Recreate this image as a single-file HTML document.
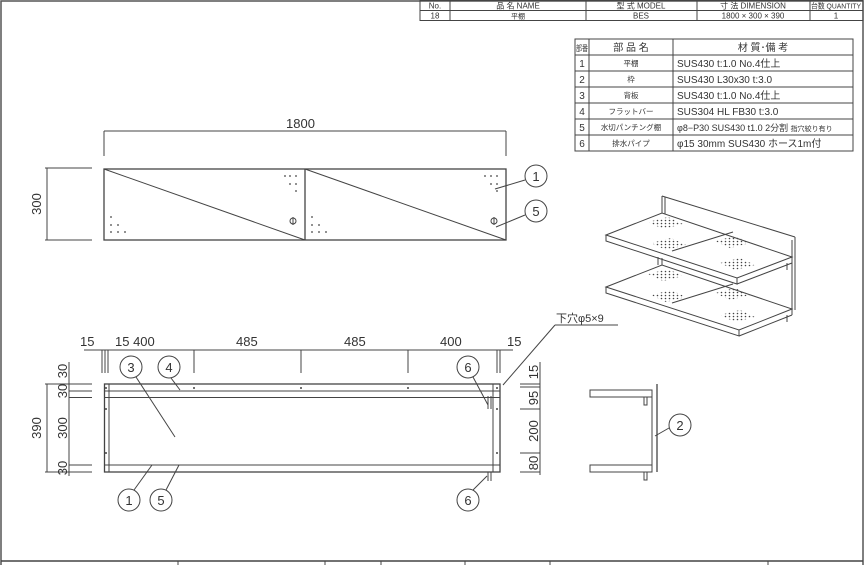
<!DOCTYPE html>
<html><head><meta charset="utf-8"><style>
html,body{margin:0;padding:0;background:#fff}
svg{display:block}
text{font-family:"Liberation Sans","Noto Sans CJK JP",sans-serif;fill:#333}
</style></head><body>
<svg width="865" height="565" viewBox="0 0 865 565" xmlns="http://www.w3.org/2000/svg">
<defs>
<pattern id="dots" width="4" height="3" patternUnits="userSpaceOnUse"><circle cx="1.5" cy="1.5" r="0.8" fill="#444"/></pattern>
</defs>
<g fill="none" stroke="#444" stroke-width="1">
<rect x="1" y="1" width="862" height="570" stroke="#555" stroke-width="1.5"/>
<line x1="1" y1="561" x2="863" y2="561" stroke-width="1.5"/>
<line x1="178" y1="561" x2="178" y2="565"/><line x1="325" y1="561" x2="325" y2="565"/><line x1="381" y1="561" x2="381" y2="565"/><line x1="465" y1="561" x2="465" y2="565"/><line x1="550" y1="561" x2="550" y2="565"/><line x1="768" y1="561" x2="768" y2="565"/>
<rect x="420" y="0.5" width="443" height="20"/>
<line x1="420" y1="10.5" x2="863" y2="10.5"/>
<line x1="450" y1="0" x2="450" y2="20"/><line x1="586" y1="0" x2="586" y2="20"/><line x1="697" y1="0" x2="697" y2="20"/><line x1="810" y1="0" x2="810" y2="20"/>
<rect x="575" y="39" width="278" height="112"/>
<line x1="575" y1="55" x2="853" y2="55"/><line x1="575" y1="71" x2="853" y2="71"/><line x1="575" y1="87" x2="853" y2="87"/><line x1="575" y1="103" x2="853" y2="103"/><line x1="575" y1="119" x2="853" y2="119"/><line x1="575" y1="135" x2="853" y2="135"/>
<line x1="589" y1="39" x2="589" y2="151"/><line x1="673" y1="39" x2="673" y2="151"/>

<rect x="104" y="169" width="402" height="71" stroke-width="1.3"/>
<line x1="305" y1="169" x2="305" y2="240" stroke-width="1.3"/>
<line x1="104" y1="169" x2="305" y2="240"/><line x1="305" y1="169" x2="506" y2="240"/>
<line x1="104" y1="131" x2="506" y2="131"/><line x1="104" y1="131" x2="104" y2="156"/><line x1="506" y1="131" x2="506" y2="156"/>
<line x1="45" y1="168" x2="92" y2="168"/><line x1="45" y1="240" x2="92" y2="240"/><line x1="47" y1="168" x2="47" y2="240"/>
<circle cx="536" cy="176" r="11"/><circle cx="536" cy="211" r="11"/>
<line x1="525" y1="180" x2="495" y2="189"/><line x1="525" y1="215" x2="496" y2="227"/>
<circle cx="293" cy="221" r="3"/><line x1="293" y1="217" x2="293" y2="225"/>
<circle cx="494" cy="221" r="3"/><line x1="494" y1="217" x2="494" y2="225"/>

<rect x="104.5" y="384" width="395.5" height="88" stroke-width="1.3"/>
<line x1="104.5" y1="391" x2="500" y2="391"/><line x1="104.5" y1="397.5" x2="500" y2="397.5"/>
<line x1="104.5" y1="465" x2="500" y2="465"/>
<line x1="109" y1="384" x2="109" y2="472"/><line x1="493" y1="384" x2="493" y2="472"/>
<line x1="84" y1="350" x2="513" y2="350"/>
<line x1="102" y1="350" x2="102" y2="373"/><line x1="105" y1="350" x2="105" y2="373"/><line x1="108" y1="350" x2="108" y2="373"/>
<line x1="194" y1="350" x2="194" y2="373"/><line x1="301" y1="350" x2="301" y2="373"/><line x1="408" y1="350" x2="408" y2="373"/>
<line x1="497" y1="350" x2="497" y2="373"/><line x1="500" y1="350" x2="500" y2="373"/>
<line x1="45" y1="384" x2="92" y2="384"/><line x1="45" y1="472" x2="92" y2="472"/><line x1="47" y1="384" x2="47" y2="472"/>
<line x1="69" y1="362" x2="69" y2="476"/>
<line x1="69" y1="391" x2="92" y2="391"/><line x1="69" y1="397.5" x2="92" y2="397.5"/><line x1="69" y1="465" x2="92" y2="465"/>
<line x1="540" y1="362" x2="540" y2="475"/>
<line x1="520" y1="384" x2="540" y2="384"/><line x1="520" y1="387" x2="540" y2="387"/>
<line x1="520" y1="409" x2="540" y2="409"/><line x1="520" y1="453" x2="540" y2="453"/><line x1="520" y1="472" x2="540" y2="472"/>
<circle cx="131" cy="367" r="11"/><circle cx="169" cy="367" r="11"/><circle cx="468" cy="367" r="11"/>
<circle cx="129" cy="500" r="11"/><circle cx="161" cy="500" r="11"/><circle cx="468" cy="500" r="11"/>
<line x1="136" y1="377" x2="175" y2="437"/><line x1="171" y1="378" x2="180" y2="390"/><line x1="473" y1="377" x2="488" y2="405"/>
<line x1="134" y1="490" x2="152" y2="465"/><line x1="166" y1="490" x2="179" y2="465"/><line x1="473" y1="490" x2="487" y2="476"/>
<line x1="503" y1="385" x2="555" y2="325"/><line x1="555" y1="325" x2="618" y2="325"/>
<line x1="488" y1="396" x2="488" y2="409"/><line x1="491" y1="396" x2="491" y2="409"/>
<line x1="488" y1="472" x2="488" y2="481"/><line x1="491" y1="472" x2="491" y2="481"/>

<rect x="590" y="390" width="62" height="7"/>
<rect x="590" y="465" width="62" height="7"/>
<line x1="657" y1="384" x2="657" y2="472" stroke-width="1.3"/>
<line x1="652" y1="390" x2="652" y2="472"/>
<rect x="644" y="397" width="3" height="8"/><rect x="644" y="472" width="3" height="8"/>
<circle cx="680" cy="425" r="11"/><line x1="669" y1="428" x2="655" y2="436"/>

<polygon points="606,235 737,278 792,257 662,213" />
<polyline points="606,235 606,241 737,284 737,278"/><line x1="737" y1="284" x2="792" y2="263"/><line x1="792" y1="257" x2="792" y2="263"/>
<line x1="662" y1="196" x2="795" y2="237"/><line x1="662" y1="196" x2="662" y2="213"/><line x1="665" y1="197" x2="665" y2="214"/>
<line x1="795" y1="237" x2="795" y2="310"/><line x1="792" y1="240" x2="792" y2="310"/>
<line x1="658" y1="257" x2="658" y2="265"/><line x1="662" y1="258" x2="662" y2="265"/>
<polygon points="606,287 739,330 792,309 662,265"/>
<polyline points="606,287 606,293 739,336 739,330"/><line x1="739" y1="336" x2="792" y2="315"/><line x1="792" y1="309" x2="792" y2="315"/>
<line x1="672" y1="251" x2="733" y2="232"/><line x1="672" y1="303" x2="733" y2="284"/>
<line x1="787" y1="263" x2="787" y2="270"/><line x1="787" y1="315" x2="787" y2="322"/>
</g>
<g fill="url(#dots)">
<polygon points="648,222 668,217 683,224 663,229"/>
<polygon points="651,243 671,238 686,245 666,250"/>
<polygon points="715,241 735,236 750,243 730,248"/>
<polygon points="720,263 740,258 755,265 735,270"/>
<polygon points="648,274 668,269 683,276 663,281"/>
<polygon points="651,295 671,290 686,297 666,302"/>
<polygon points="715,293 735,288 750,295 730,300"/>
<polygon points="720,315 740,310 755,317 735,322"/>
</g>
<g fill="#444">
<circle cx="285" cy="176" r="0.9"/><circle cx="290" cy="176" r="0.9"/><circle cx="296" cy="176" r="0.9"/><circle cx="290" cy="184" r="0.9"/><circle cx="296" cy="184" r="0.9"/><circle cx="296" cy="191" r="0.9"/>
<circle cx="485" cy="176" r="0.9"/><circle cx="491" cy="176" r="0.9"/><circle cx="497" cy="176" r="0.9"/><circle cx="491" cy="184" r="0.9"/><circle cx="497" cy="184" r="0.9"/><circle cx="497" cy="191" r="0.9"/>
<circle cx="111" cy="217" r="0.9"/><circle cx="111" cy="225" r="0.9"/><circle cx="118" cy="225" r="0.9"/><circle cx="111" cy="232" r="0.9"/><circle cx="118" cy="232" r="0.9"/><circle cx="125" cy="232" r="0.9"/>
<circle cx="312" cy="217" r="0.9"/><circle cx="312" cy="225" r="0.9"/><circle cx="319" cy="225" r="0.9"/><circle cx="312" cy="232" r="0.9"/><circle cx="319" cy="232" r="0.9"/><circle cx="326" cy="232" r="0.9"/>
<circle cx="106" cy="388" r="1"/><circle cx="194" cy="388" r="1"/><circle cx="301" cy="388" r="1"/><circle cx="408" cy="388" r="1"/><circle cx="497" cy="388" r="1"/>
<circle cx="106" cy="409" r="1"/><circle cx="106" cy="453" r="1"/><circle cx="497" cy="409" r="1"/><circle cx="497" cy="453" r="1"/>
</g>
<g font-size="8" text-anchor="middle">
<text x="435" y="8.5">No.</text><text x="518" y="8.5">品 名 NAME</text><text x="641" y="8.5">型 式 MODEL</text><text x="753" y="8.5">寸 法 DIMENSION</text><text x="836" y="8.5" font-size="7.5" textLength="50" lengthAdjust="spacingAndGlyphs">台数 QUANTITY</text>
<text x="435" y="18.5">18</text><text x="518" y="18.5" font-size="7">平棚</text><text x="641" y="18.5">BES</text><text x="753" y="18.5">1800 × 300 × 390</text><text x="836" y="18.5">1</text>
</g>
<g font-size="10">
<text x="582" y="51" text-anchor="middle" font-size="8" textLength="12" lengthAdjust="spacingAndGlyphs">部番</text><text x="631" y="51" text-anchor="middle">部 品 名</text><text x="763" y="51" text-anchor="middle">材 質･備 考</text>
<g text-anchor="middle"><text x="582" y="67">1</text><text x="582" y="83">2</text><text x="582" y="99">3</text><text x="582" y="115">4</text><text x="582" y="131">5</text><text x="582" y="147">6</text></g>
<g text-anchor="middle" font-size="7.5"><text x="631" y="66">平棚</text><text x="631" y="82">枠</text><text x="631" y="98">背板</text><text x="631" y="114">フラットバー</text><text x="631" y="130">水切パンチング棚</text><text x="631" y="146">排水パイプ</text></g>
<text x="677" y="67">SUS430 t:1.0 No.4仕上</text>
<text x="677" y="83">SUS430 L30x30 t:3.0</text>
<text x="677" y="99">SUS430 t:1.0 No.4仕上</text>
<text x="677" y="115">SUS304 HL FB30 t:3.0</text>
<text x="677" y="131" font-size="9">φ8−P30 SUS430 t1.0 2分割 <tspan font-size="7">指穴絞り有り</tspan></text>
<text x="677" y="147">φ15 30mm SUS430 ホース1m付</text>
</g>
<g font-size="13" fill="#444">
<text x="286" y="128">1800</text>
<text transform="translate(41,204) rotate(-90)" text-anchor="middle">300</text>
<text x="80" y="346">15</text><text x="115" y="346">15 400</text><text x="236" y="346">485</text><text x="344" y="346">485</text><text x="440" y="346">400</text><text x="507" y="346">15</text>
<text transform="translate(41,428) rotate(-90)" text-anchor="middle">390</text>
<text transform="translate(67,428) rotate(-90)" text-anchor="middle">300</text>
<text transform="translate(67,371) rotate(-90)" text-anchor="middle">30</text>
<text transform="translate(67,391) rotate(-90)" text-anchor="middle">30</text>
<text transform="translate(67,468) rotate(-90)" text-anchor="middle">30</text>
<text transform="translate(538,372) rotate(-90)" text-anchor="middle">15</text>
<text transform="translate(538,398) rotate(-90)" text-anchor="middle">95</text>
<text transform="translate(538,431) rotate(-90)" text-anchor="middle">200</text>
<text transform="translate(538,463) rotate(-90)" text-anchor="middle">80</text>
<text x="556" y="322" font-size="11">下穴φ5×9</text>
</g>
<g font-size="13" text-anchor="middle" fill="#444">
<text x="536" y="181">1</text><text x="536" y="216">5</text>
<text x="131" y="372">3</text><text x="169" y="372">4</text><text x="468" y="372">6</text>
<text x="129" y="505">1</text><text x="161" y="505">5</text><text x="468" y="505">6</text>
<text x="680" y="430">2</text>
</g>
</svg>
</body></html>
